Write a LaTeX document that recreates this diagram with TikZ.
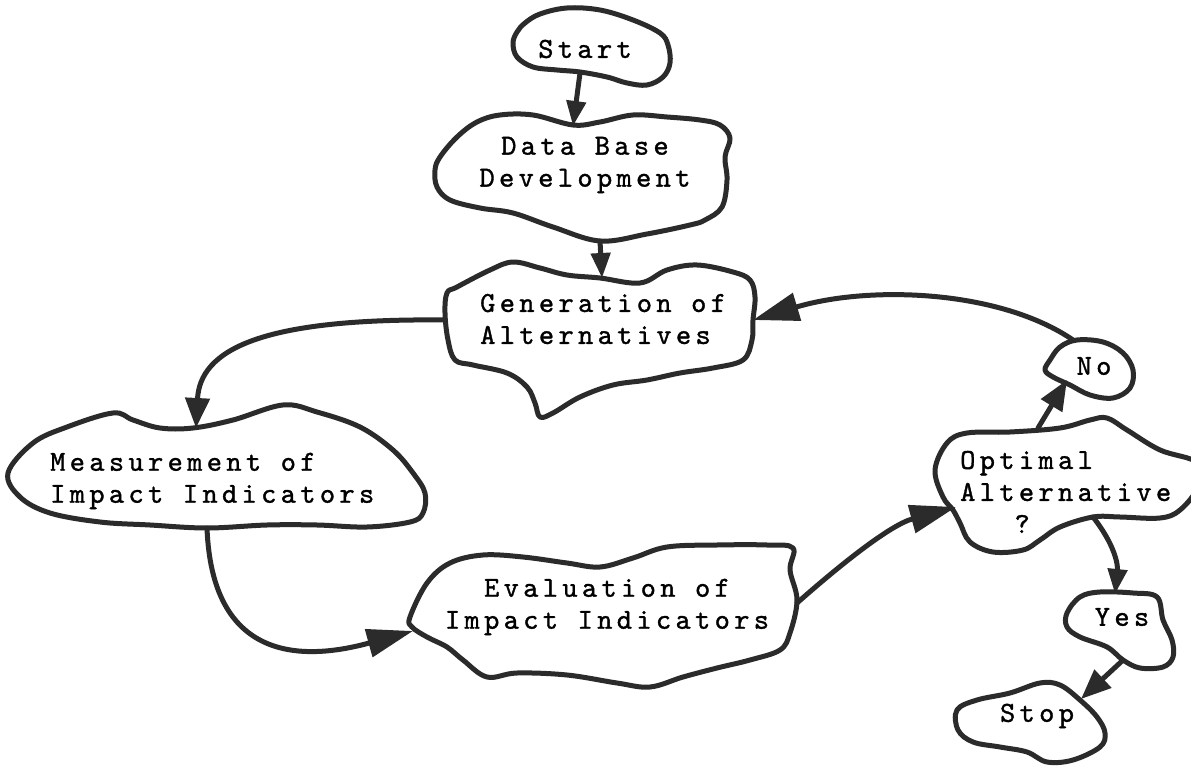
\documentclass[tikz,border=0pt]{standalone}
\usepackage{fontspec}
\newfontfamily\typefont{lmmono10-regular.otf}[LetterSpace=15, FakeBold=1.2]
\usetikzlibrary{arrows.meta}
\definecolor{inkc}{gray}{0.17}
\tikzset{
  blob/.style={draw=inkc, line width=5pt, line join=round},
  conn/.style={draw=inkc, line width=5pt, line cap=round,
    -{Triangle[length=30pt,width=24pt]}},
  longtip/.style={-{Triangle[length=46pt,width=28pt]}},
  smalltip/.style={-{Triangle[length=25pt,width=19pt]}},
  txt/.style={font=\typefont\fontsize{29}{32}\selectfont, inner sep=0pt, text=black}
}
\begin{document}
\begin{tikzpicture}[x=1pt, y=-1pt]
\useasboundingbox[fill=white] (0,0) rectangle (1191,767);

% ---- labels ----
\node[txt] (start) at (585,49) {Start};
\node[txt, align=center] (data) at (585,165) {Data Base\\Development};
\node[txt, align=left, anchor=west] (gen) at (480,319) {Generation of\\Alternatives};
\node[txt, align=left, anchor=west] (meas) at (50,481) {Measurement of\\Impact Indicators};
\node[txt, align=center] (eval) at (607,607) {Evaluation of\\Impact Indicators};
\node[txt, align=left, anchor=west] (opt) at (960,492) {Optimal\\Alternative\\\phantom{Alt}?};
\node[txt] (no) at (1094,366) {No};
\node[txt] (yes) at (1122,617) {Yes};
\node[txt] (stop) at (1037,716) {Stop};

% ---- outlines ----
\draw[blob] plot[smooth cycle, tension=0.6] coordinates {
  (525,23) (540,14) (567,8) (600,10) (633,20) (660,33) (668,45) (670,63)
  (663,77) (647,85) (627,83) (607,77) (580,72) (557,70) (533,67) (517,57)
  (513,43) (517,32)};
\draw[blob] plot[smooth cycle, tension=0.6] coordinates {
  (457,137) (477,122) (500,115) (533,115) (573,125) (600,122) (633,115)
  (667,117) (700,120) (720,125) (730,138) (725,157) (727,180) (722,207)
  (705,220) (690,225) (647,234) (600,241) (553,227) (513,213) (480,208)
  (450,200) (437,187) (435,170) (440,157)};
\draw[blob] plot[smooth cycle, tension=0.6] coordinates {
  (447,293) (457,287) (490,270) (513,262) (540,268) (567,275) (600,278)
  (640,283) (667,270) (697,265) (733,272) (750,280) (755,297) (753,320)
  (752,340) (743,360) (713,368) (680,373) (647,380) (613,385) (580,397)
  (553,413) (540,417) (535,403) (527,387) (507,373) (473,365) (455,360)
  (448,340) (445,313)};
\draw[blob] plot[smooth cycle, tension=0.6] coordinates {
  (8,473) (33,443) (67,427) (113,413) (133,420) (160,428) (193,428)
  (233,420) (283,405) (317,412) (360,427) (393,450) (413,473) (425,493)
  (423,513) (410,522) (367,527) (317,525) (267,525) (207,528) (150,525)
  (100,522) (50,513) (20,497)};
\draw[blob] plot[smooth cycle, tension=0.6] coordinates {
  (410,617) (427,583) (450,563) (483,555) (523,557) (567,563) (600,567)
  (633,558) (667,547) (717,545) (767,545) (793,548) (790,570) (797,600)
  (790,633) (780,650) (750,660) (717,668) (683,677) (650,687) (617,683)
  (567,675) (517,673) (487,677) (463,660) (447,647) (427,637) (412,627)};
\draw[blob] plot[smooth cycle, tension=0.6] coordinates {
  (935,470) (947,443) (967,433) (1010,432) (1060,428) (1090,420)
  (1107,418) (1127,430) (1160,450) (1198,463) (1198,487) (1180,510)
  (1160,518) (1120,517) (1093,517) (1060,527) (1040,540) (1023,550)
  (993,552) (970,542) (960,523) (953,510) (943,497)};
\draw[blob] plot[smooth cycle, tension=0.6] coordinates {
  (1050,360) (1060,347) (1077,340) (1103,342) (1123,353) (1133,370)
  (1130,388) (1113,398) (1090,395) (1070,385) (1053,377) (1045,370)};
\draw[blob] plot[smooth cycle, tension=0.6] coordinates {
  (1067,613) (1080,597) (1100,592) (1133,593) (1157,597) (1163,620)
  (1172,640) (1173,657) (1163,667) (1140,668) (1123,660) (1107,647)
  (1080,637) (1067,627)};
\draw[blob] plot[smooth cycle, tension=0.6] coordinates {
  (957,710) (977,700) (1010,693) (1040,683) (1060,685) (1080,700)
  (1097,717) (1105,733) (1100,747) (1073,760) (1047,762) (1027,752)
  (1000,747) (973,742) (958,730)};

% ---- connector end points on the outlines ----
\coordinate (start-s) at (580,73);
\coordinate (data-n)  at (573,126);
\coordinate (data-s)  at (600,241);
\coordinate (gen-n)   at (602,278);
\coordinate (gen-w)   at (445,320);
\coordinate (gen-e)   at (753,320);
\coordinate (meas-n)  at (196,428);
\coordinate (meas-s)  at (207,528);
\coordinate (eval-w)  at (413,631);
\coordinate (eval-e)  at (797,603);
\coordinate (opt-w)   at (956,507);
\coordinate (opt-n)   at (1038,428);
\coordinate (opt-s)   at (1093,517);
\coordinate (no-sw)   at (1067,380);
\coordinate (no-n)    at (1073,340);
\coordinate (yes-n)   at (1115,594);
\coordinate (yes-s)   at (1122,661);
\coordinate (stop-ne) at (1081,699);

% ---- connectors ----
\draw[conn, smalltip] (start-s) -- (data-n);
\draw[conn, smalltip] (data-s) -- (gen-n);
\draw[conn] (gen-w) .. controls (260,318) and (200,350) .. (meas-n);
\draw[conn, longtip] (meas-s) .. controls (212,660) and (300,662) .. (eval-w);
\draw[conn, longtip] (eval-e) .. controls (840,565) and (890,525) .. (opt-w);
\draw[conn] (opt-n) -- (no-sw);
\draw[conn, longtip] (no-n) .. controls (1000,290) and (870,285) .. (gen-e);
\draw[conn, smalltip] (opt-s) .. controls (1115,545) and (1118,565) .. (yes-n);
\draw[conn] (yes-s) -- (stop-ne);
\end{tikzpicture}
\end{document}
